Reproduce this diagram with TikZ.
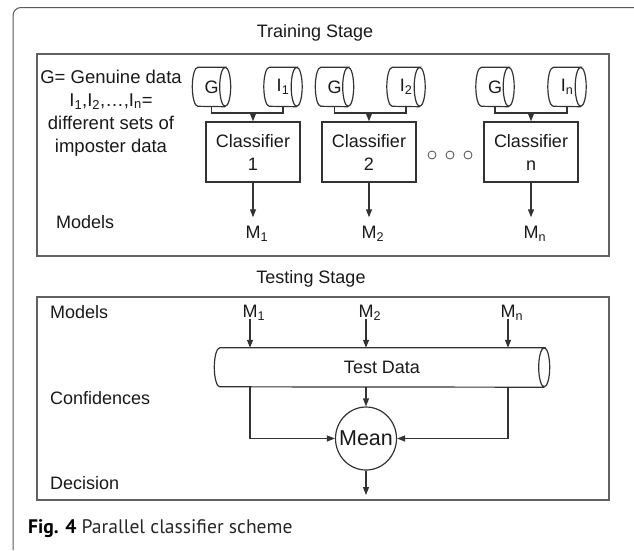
\documentclass[tikz,border=0pt]{standalone}
\usepackage{fontspec}
\setmainfont{Liberation Sans}
\newfontfamily\capfont{PT Sans}
\usetikzlibrary{arrows.meta,shapes.geometric,calc}
\tikzset{
  ln/.style={draw=black!80, line width=1.2pt},
  arr/.style={ln, -{Triangle[length=8pt,width=6pt]}},
  frm/.style={draw=black!62, line width=1.8pt},
  txt/.style={inner sep=1pt, text=black!90},
  clsbox/.style={ln, txt, minimum width=94pt, minimum height=60pt, align=center},
  cylbody/.style={txt, minimum width=#1, minimum height=39pt, inner sep=0pt},
  mlab/.style={txt, text height=13pt, text depth=0pt},
  dot/.style={circle, draw=black!70, line width=0.8pt, minimum size=8pt, inner sep=0pt},
}
\newcommand\cylout[1]{\draw[ln] (#1.north east) arc[start angle=90,end angle=-270,x radius=5.5pt,y radius=19.5pt] -- (#1.north west) arc[start angle=90,end angle=270,x radius=5.5pt,y radius=19.5pt] -- (#1.south east);}
\begin{document}
\begin{tikzpicture}[x=1pt,y=-1pt,font=\fontsize{18}{23}\selectfont]
\useasboundingbox (0,0) rectangle (634,550);
% outer frame
\draw[draw=black!65, line width=1pt, rounded corners=8pt] (634,7.5) -- (13,7.5) -- (13,550);

% ---------- training ----------
\node[txt] (trtitle) at (315,33) {Training Stage};
\node[frm, minimum width=572pt, minimum height=202pt] (trainbox) at (323,155) {};

\node[txt, align=center, font=\fontsize{18.5}{23}\selectfont] (legend) at (111,113) {G= Genuine data\\I\textsubscript{1},I\textsubscript{2},\dots,I\textsubscript{n}=\\different sets of\\imposter data};

\node[cylbody=27pt] (g1) at (211.5,87) {G};
\node[cylbody=27pt] (i1) at (283,87) {I\textsubscript{1}};
\node[cylbody=27pt] (g2) at (334.5,87) {G};
\node[cylbody=27pt] (i2) at (406,87) {I\textsubscript{2}};
\node[cylbody=27pt] (g3) at (495,87) {G};
\node[cylbody=27pt] (in) at (567,87) {I\textsubscript{n}};
\foreach \n in {g1,i1,g2,i2,g3,in} {\cylout{\n}}

\node[clsbox] (c1) at (253,152) {Classifier\\1};
\node[clsbox] (c2) at (369,152) {Classifier\\2};
\node[clsbox] (cn) at (531,152) {Classifier\\n};

\node[dot] (d1) at (432,155) {};
\node[dot] (d2) at (450,155) {};
\node[dot] (d3) at (468,155) {};

\coordinate (j1) at (c1.north |- 0,113);
\coordinate (j2) at (c2.north |- 0,113);
\coordinate (jn) at (cn.north |- 0,113);
\draw[ln] (g1.south) |- (j1) -| (i1.south);
\draw[ln] (g2.south) |- (j2) -| (i2.south);
\draw[ln] (g3.south) |- (jn) -| (in.south);
\draw[arr] (j1) -- (c1.north);
\draw[arr] (j2) -- (c2.north);
\draw[arr] (jn) -- (cn.north);

\node[txt, anchor=west] (trmodels) at (55,222) {Models};
\node[mlab] (m1) at (253,232) {M\rlap{\textsubscript{1}}};
\node[mlab] (m2) at (369,232) {M\rlap{\textsubscript{2}}};
\node[mlab] (mn) at (531,232) {M\rlap{\textsubscript{n}}};
\draw[arr, shorten >=7pt] (c1.south) -- (m1.north);
\draw[arr, shorten >=7pt] (c2.south) -- (m2.north);
\draw[arr, shorten >=7pt] (cn.south) -- (mn.north);

% ---------- testing ----------
\node[txt] (tetitle) at (311,279) {Testing Stage};
\node[frm, minimum width=572pt, minimum height=203pt] (testbox) at (323,398.5) {};

\node[txt, anchor=west] (temodels) at (49,312) {Models};
\node[txt, anchor=west] (conf) at (49,398) {Confidences};
\node[txt, anchor=west] (decision) at (49,483) {Decision};

\node[mlab] (tm1) at (250,311) {M\rlap{\textsubscript{1}}};
\node[mlab] (tm2) at (366,311) {M\rlap{\textsubscript{2}}};
\node[mlab] (tmn) at (508,311) {M\rlap{\textsubscript{n}}};

\node[cylbody=324pt] (tdata) at (382,367.5) {Test Data};
\cylout{tdata}

\draw[arr] (tm1.south) -- (tm1.south |- tdata.north);
\draw[arr] (tm2.south) -- (tm2.south |- tdata.north);
\draw[arr] (tmn.south) -- (tmn.south |- tdata.north);

\node[ln, ellipse, txt, minimum width=61pt, minimum height=63pt, inner sep=0pt, font=\fontsize{21.5}{24}\selectfont] (mean) at (366,438.5) {\makebox[0pt]{Mean}};
\draw[arr] (tdata.south -| mean) -- (mean.north);
\draw[arr] (tdata.south -| tm1) |- (mean);
\draw[arr] (tdata.south -| tmn) |- (mean);
\coordinate (dec) at (366,495);
\draw[arr] (mean.south) -- (dec);

% caption
\node[anchor=base west, inner sep=0pt, font=\capfont\fontsize{19.6}{23}\selectfont, text=black!85] (cap) at (28,533) {\textbf{\color{black}Fig. 4} Parallel classifier scheme};
\end{tikzpicture}
\end{document}
